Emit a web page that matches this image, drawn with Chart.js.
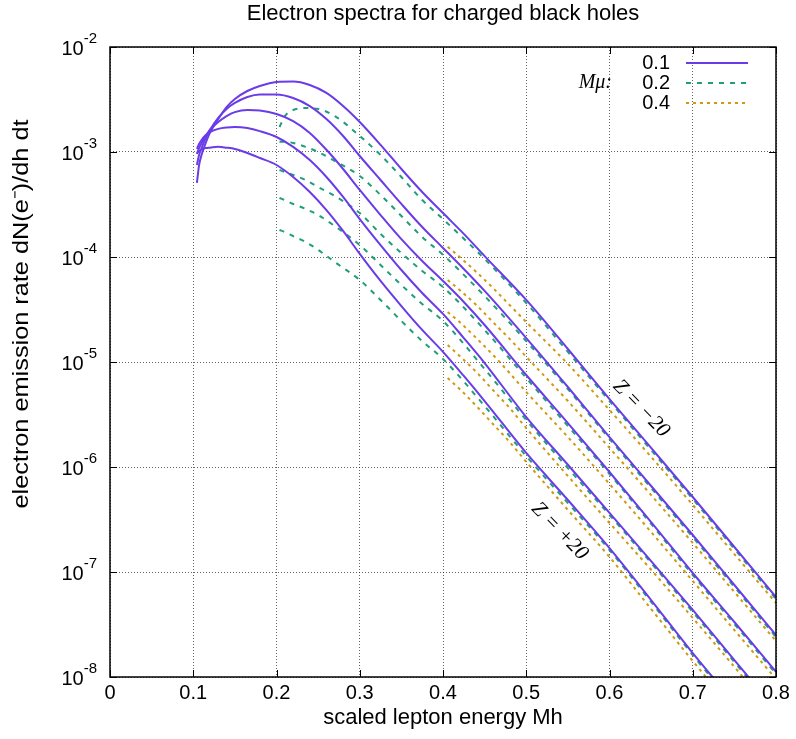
<!DOCTYPE html>
<html>
<head>
<meta charset="utf-8">
<script src="https://cdn.jsdelivr.net/npm/chart.js@4.4.0/dist/chart.umd.min.js"></script>
<style>
  html, body { margin: 0; padding: 0; background: #fff; }
  #contenedor { width: 796px; height: 739px; }
</style>
</head>
<body>
<div id="contenedor"><canvas id="myChart01"></canvas></div>
<script>
// energia escalada Mh de cada familia de curvas
const energia01 = [0.1044, 0.107, 0.11, 0.115, 0.12, 0.13, 0.14, 0.15, 0.165, 0.18, 0.2, 0.22, 0.24, 0.26, 0.28,
  0.3, 0.325, 0.35, 0.375, 0.4, 0.425, 0.45, 0.5, 0.55, 0.6, 0.65, 0.7, 0.75, 0.8];
const energia02 = [0.2036, 0.21, 0.22, 0.235, 0.25, 0.27, 0.3, 0.325, 0.35, 0.375, 0.4, 0.45, 0.5, 0.55, 0.6,
  0.65, 0.7, 0.75, 0.8];
const energia04 = [0.4056, 0.42, 0.44, 0.46, 0.48, 0.5, 0.55, 0.6, 0.65, 0.7, 0.75, 0.8];

// Mmu = 0.1, de Z = -20 (arriba) a Z = +20 (abajo)
const mu01_a = [5.07e-4, 7.5e-4, 9.4e-4, 1.22e-3, 1.52e-3, 2.06e-3, 2.68e-3, 3.2e-3, 3.81e-3, 4.25e-3, 4.64e-3,
  4.69e-3, 4.35e-3, 3.65e-3, 2.74e-3, 1.93e-3, 1.17e-3, 6.89e-4, 4.16e-4, 2.62e-4, 1.66e-4, 1.02e-4, 3.9e-5,
  1.33e-5, 4.44e-6, 1.52e-6, 5.18e-7, 1.73e-7, 5.78e-8];
const mu01_b = [7.52e-4, 9.36e-4, 1.09e-3, 1.36e-3, 1.62e-3, 2.11e-3, 2.57e-3, 2.93e-3, 3.34e-3, 3.53e-3, 3.53e-3,
  3.27e-3, 2.74e-3, 2.06e-3, 1.42e-3, 9.16e-4, 5.41e-4, 3.2e-4, 1.93e-4, 1.22e-4, 7.69e-5, 4.75e-5, 1.69e-5,
  5.78e-6, 1.93e-6, 6.59e-7, 2.25e-7, 7.52e-8, 2.51e-8];
const mu01_c = [9.57e-4, 1.09e-3, 1.22e-3, 1.42e-3, 1.62e-3, 1.93e-3, 2.2e-3, 2.4e-3, 2.51e-3, 2.48e-3, 2.3e-3,
  1.97e-3, 1.52e-3, 1.05e-3, 6.89e-4, 4.35e-4, 2.51e-4, 1.48e-4, 9.16e-5, 5.91e-5, 3.73e-5, 2.25e-5, 7.52e-6,
  2.62e-6, 8.96e-7, 2.99e-7, 9.78e-8, 3.34e-8, 1.12e-8];
const mu01_d = [1.07e-3, 1.19e-3, 1.3e-3, 1.45e-3, 1.55e-3, 1.66e-3, 1.71e-3, 1.73e-3, 1.69e-3, 1.58e-3, 1.39e-3,
  1.12e-3, 8.39e-4, 5.78e-4, 3.73e-4, 2.3e-4, 1.3e-4, 7.52e-5, 4.54e-5, 2.87e-5, 1.69e-5, 9.78e-6, 2.99e-6,
  1.05e-6, 3.65e-7, 1.27e-7, 4.35e-8, 1.45e-8, 4.85e-9];
const mu01_e = [9.78e-4, 1.02e-3, 1.06e-3, 1.09e-3, 1.1e-3, 1.12e-3, 1.1e-3, 1.07e-3, 9.78e-4, 8.77e-4, 7.52e-4,
  5.78e-4, 4.16e-4, 2.8e-4, 1.77e-4, 1.07e-4, 5.91e-5, 3.41e-5, 2.02e-5, 1.25e-5, 7.36e-6, 4.25e-6, 1.36e-6,
  4.85e-7, 1.69e-7, 5.41e-8, 1.69e-8, 5.66e-9, 1.89e-9];

// Mmu = 0.2
const mu02_a = [1.73e-3, 2.2e-3, 2.51e-3, 2.62e-3, 2.57e-3, 2.2e-3, 1.42e-3, 9.36e-4, 5.78e-4, 3.49e-4, 2.3e-4,
  9.57e-5, 3.65e-5, 1.25e-5, 4.25e-6, 1.45e-6, 4.96e-7, 1.66e-7, 5.53e-8];
const mu02_b = [1.25e-3, 1.25e-3, 1.22e-3, 1.12e-3, 1e-3, 8.21e-4, 5.91e-4, 3.9e-4, 2.46e-4, 1.55e-4, 1.05e-4,
  4.25e-5, 1.58e-5, 5.53e-6, 1.85e-6, 6.31e-7, 2.15e-7, 7.2e-8, 2.4e-8];
const mu02_c = [6.74e-4, 6.45e-4, 6.04e-4, 5.41e-4, 4.64e-4, 3.81e-4, 2.62e-4, 1.66e-4, 1.09e-4, 7.36e-5, 5.18e-5,
  2.02e-5, 7.04e-6, 2.46e-6, 8.58e-7, 2.87e-7, 9.36e-8, 3.2e-8, 1.07e-8];
const mu02_d = [3.65e-4, 3.49e-4, 3.2e-4, 2.87e-4, 2.51e-4, 1.97e-4, 1.3e-4, 8.39e-5, 5.41e-5, 3.57e-5, 2.46e-5,
  8.58e-6, 2.8e-6, 9.78e-7, 3.49e-7, 1.22e-7, 4.16e-8, 1.39e-8, 4.64e-9];
const mu02_e = [1.81e-4, 1.73e-4, 1.58e-4, 1.39e-4, 1.17e-4, 8.96e-5, 6.04e-5, 3.9e-5, 2.46e-5, 1.58e-5, 1.07e-5,
  3.81e-6, 1.27e-6, 4.54e-7, 1.62e-7, 5.18e-8, 1.62e-8, 5.41e-9, 1.81e-9];

// Mmu = 0.4
const mu04_a = [1.25e-4, 1e-4, 7.2e-5, 5.07e-5, 3.49e-5, 2.4e-5, 9.57e-6, 3.49e-6, 1.25e-6, 4.35e-7, 1.48e-7, 5.07e-8];
const mu04_b = [6.04e-5, 4.85e-5, 3.49e-5, 2.4e-5, 1.66e-5, 1.12e-5, 4.25e-6, 1.52e-6, 5.41e-7, 1.89e-7, 6.45e-8, 2.2e-8];
const mu04_c = [2.99e-5, 2.4e-5, 1.69e-5, 1.17e-5, 7.86e-6, 5.18e-6, 1.93e-6, 6.89e-7, 2.4e-7, 8.21e-8, 2.8e-8, 9.57e-9];
const mu04_d = [1.45e-5, 1.14e-5, 8.03e-6, 5.41e-6, 3.65e-6, 2.35e-6, 8.21e-7, 2.93e-7, 1.05e-7, 3.65e-8, 1.25e-8, 4.16e-9];
const mu04_e = [7.04e-6, 5.53e-6, 3.81e-6, 2.57e-6, 1.73e-6, 1.12e-6, 3.9e-7, 1.39e-7, 4.44e-8, 1.42e-8, 4.75e-9, 1.58e-9];

// ejes
const xTicks = [0, 0.1, 0.2, 0.3, 0.4, 0.5, 0.6, 0.7, 0.8];
const yExps = [-8, -7, -6, -5, -4, -3, -2];
const leyenda = ['0.1', '0.2', '0.4'];

// etiquetas Z sobre las curvas
const etiquetaZmenos = { texto: 'Z = \u221220', x: 0.638, y: 3.6e-6 };
const etiquetaZmas = { texto: 'Z = +20', x: 0.54, y: 2.45e-7 };

const colorMorado = '#6a3ce8';
const colorVerde = '#1f9e7a';
const colorNaranja = '#cf9a12';
const rayaVerde = [5, 6];
const rayaNaranja = [3, 4];

const fuente = '"Liberation Sans", Arial, Helvetica, sans-serif';
const fuenteSerif = '"Liberation Serif", "Times New Roman", serif';

function serie(xs, ys, color, raya) {
    return {
        data: xs.map((x, i) => ({ x: x, y: ys[i] })),
        borderColor: color,
        borderWidth: 2,
        borderDash: raya,
        pointRadius: 0,
        fill: false,
        cubicInterpolationMode: 'monotone'
    };
}

const datasets = [
    serie(energia01, mu01_a, colorMorado, []),
    serie(energia01, mu01_b, colorMorado, []),
    serie(energia01, mu01_c, colorMorado, []),
    serie(energia01, mu01_d, colorMorado, []),
    serie(energia01, mu01_e, colorMorado, []),
    serie(energia02, mu02_a, colorVerde, rayaVerde),
    serie(energia02, mu02_b, colorVerde, rayaVerde),
    serie(energia02, mu02_c, colorVerde, rayaVerde),
    serie(energia02, mu02_d, colorVerde, rayaVerde),
    serie(energia02, mu02_e, colorVerde, rayaVerde),
    serie(energia04, mu04_a, colorNaranja, rayaNaranja),
    serie(energia04, mu04_b, colorNaranja, rayaNaranja),
    serie(energia04, mu04_c, colorNaranja, rayaNaranja),
    serie(energia04, mu04_d, colorNaranja, rayaNaranja),
    serie(energia04, mu04_e, colorNaranja, rayaNaranja)
];

// marco, ticks hacia dentro, etiquetas log y leyenda al estilo gnuplot
const marco = {
    id: 'marco',
    afterDraw(chart) {
        const { ctx, chartArea: a } = chart;
        const sx = chart.scales.x;
        const sy = chart.scales.y;
        ctx.save();

        ctx.strokeStyle = '#000';
        ctx.lineWidth = 1;
        ctx.beginPath();
        xTicks.forEach(v => {
            const px = Math.round(sx.getPixelForValue(v)) + 0.5;
            ctx.moveTo(px, a.bottom); ctx.lineTo(px, a.bottom - 7);
            ctx.moveTo(px, a.top); ctx.lineTo(px, a.top + 7);
        });
        yExps.forEach(e => {
            const py = Math.round(sy.getPixelForValue(Math.pow(10, e))) + 0.5;
            ctx.moveTo(a.left, py); ctx.lineTo(a.left + 7, py);
            ctx.moveTo(a.right, py); ctx.lineTo(a.right - 7, py);
        });
        ctx.stroke();
        ctx.lineWidth = 1.5;
        ctx.strokeRect(a.left, a.top, a.right - a.left, a.bottom - a.top);

        // etiquetas 10^n
        ctx.fillStyle = '#000';
        ctx.textAlign = 'right';
        ctx.textBaseline = 'middle';
        yExps.forEach(e => {
            const py = sy.getPixelForValue(Math.pow(10, e));
            ctx.font = '15px ' + fuente;
            const exp = '-' + Math.abs(e);
            const w = ctx.measureText(exp).width;
            ctx.fillText(exp, a.left - 13, py - 8);
            ctx.font = '20px ' + fuente;
            ctx.fillText('10', a.left - 13 - w, py + 2);
        });

        // titulo
        ctx.textAlign = 'center';
        ctx.font = '22px ' + fuente;
        ctx.fillText('Electron spectra for charged black holes', (a.left + a.right) / 2, 14);

        // titulo eje y
        ctx.save();
        ctx.translate(22, 314);
        ctx.rotate(-Math.PI / 2);
        ctx.scale(1.15, 1);
        ctx.fillText('electron emission rate dN(e\u207B)/dh dt', 0, 0);
        ctx.restore();

        // leyenda
        const colores = [colorMorado, colorVerde, colorNaranja];
        const rayas = [[], rayaVerde, rayaNaranja];
        ctx.font = '20px ' + fuente;
        leyenda.forEach((t, i) => {
            const py = a.top + 16 + i * 20;
            ctx.textAlign = 'right';
            ctx.fillStyle = '#000';
            ctx.fillText(t, a.right - 106, py);
            ctx.strokeStyle = colores[i];
            ctx.lineWidth = 2;
            ctx.setLineDash(rayas[i]);
            ctx.beginPath();
            ctx.moveTo(a.right - 90, py);
            ctx.lineTo(a.right - 28, py);
            ctx.stroke();
        });
        ctx.setLineDash([]);
        ctx.font = 'italic 20px ' + fuenteSerif;
        ctx.textAlign = 'right';
        ctx.fillText('M\u03BC:', a.right - 164, a.top + 36);

        // Z = -20 y Z = +20
        ctx.textAlign = 'center';
        ctx.font = 'italic 21px ' + fuenteSerif;
        [etiquetaZmenos, etiquetaZmas].forEach(et => {
            ctx.save();
            ctx.translate(sx.getPixelForValue(et.x), sy.getPixelForValue(et.y));
            ctx.rotate(46 * Math.PI / 180);
            ctx.fillText(et.texto, 0, 0);
            ctx.restore();
        });

        ctx.restore();
    }
};

let myChart1;
function show_grafico_01() {
    if (myChart1) myChart1.destroy();
    const grafica = document.querySelector('#myChart01');

    myChart1 = new Chart(grafica, {
        type: 'line',
        data: { datasets: datasets },
        options: {
            responsive: true,
            maintainAspectRatio: false,
            animation: false,
            devicePixelRatio: 1,
            layout: { padding: { top: 47, right: 20, bottom: 0, left: 0 } },
            plugins: {
                legend: { display: false },
                title: { display: false },
                tooltip: { enabled: false }
            },
            scales: {
                x: {
                    type: 'linear',
                    min: 0,
                    max: 0.8,
                    afterBuildTicks: scale => { scale.ticks = xTicks.map(v => ({ value: v })); },
                    afterFit: scale => { scale.height = 62; },
                    ticks: {
                        color: '#000',
                        padding: 4,
                        maxRotation: 0,
                        font: { family: fuente, size: 20 },
                        callback: v => (v === 0 ? '0' : v.toFixed(1))
                    },
                    grid: { color: 'rgba(0,0,0,0.6)', lineWidth: 1, drawTicks: false },
                    border: { display: false, dash: [1, 2] },
                    title: {
                        display: true,
                        text: 'scaled lepton energy Mh',
                        color: '#000',
                        font: { family: fuente, size: 22 },
                        padding: { top: 0, bottom: 8 }
                    }
                },
                y: {
                    type: 'logarithmic',
                    min: 1e-8,
                    max: 1e-2,
                    afterBuildTicks: scale => { scale.ticks = yExps.map(e => ({ value: Math.pow(10, e) })); },
                    afterFit: scale => { scale.width = 110; },
                    ticks: { display: false },
                    grid: { color: 'rgba(0,0,0,0.6)', lineWidth: 1, drawTicks: false },
                    border: { display: false, dash: [1, 2] }
                }
            }
        },
        plugins: [marco]
    });
}

show_grafico_01();
</script>
</body>
</html>
